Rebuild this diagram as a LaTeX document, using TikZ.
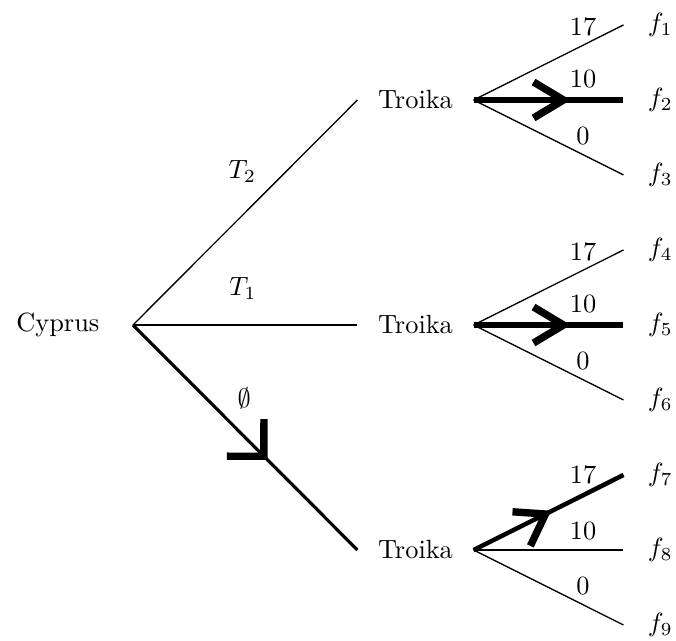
\documentclass[tikz,border=0pt]{standalone}
\usetikzlibrary{decorations.markings}
\begin{document}
\begin{tikzpicture}[line width=0.5pt,
  player/.style={inner xsep=7.6pt},
  outcome/.style={inner xsep=9pt},
  chosen/.style={line width=2.4pt},
  barb/.style n args={3}{postaction={decorate, decoration={markings,
      mark=at position #1 with {\draw[line width=2.8pt, line cap=butt] (#2) -- (0,0) -- (#3);}}}}]
  \useasboundingbox (-1.773,-4.213) rectangle (7.24,4.333);
  \node[player, inner xsep=12.5pt, anchor=east] (cy) at (0,0) {Cyprus};
  \node[player] (t2) at (3.767,3) {Troika};
  \node[player] (t1) at (3.767,0) {Troika};
  \node[player] (t0) at (3.767,-3) {Troika};
  \node[outcome] (f1) at (7.03,4) {$f_1$};
  \node[outcome] (f2) at (7.03,3) {$f_2$};
  \node[outcome] (f3) at (7.03,2) {$f_3$};
  \node[outcome] (f4) at (7.03,1) {$f_4$};
  \node[outcome] (f5) at (7.03,0) {$f_5$};
  \node[outcome] (f6) at (7.03,-1) {$f_6$};
  \node[outcome] (f7) at (7.03,-2) {$f_7$};
  \node[outcome] (f8) at (7.03,-3) {$f_8$};
  \node[outcome] (f9) at (7.03,-4) {$f_9$};
  \draw (cy.east) -- node[pos=0.59, above left] (lt2) {$T_2$} (t2.west);
  \draw (cy.east) -- node[pos=0.49, above=6pt] (lt1) {$T_1$} (t1.west);
  \draw[line width=1.2pt, barb={0.584}{-0.35,0.35}{-0.35,-0.35}] (cy.east)
    -- node[pos=0.42, above right] (lt0) {$\emptyset$} (t0.west);
  \draw (t2.east) -- node[pos=0.73, above] (p1) {17} (f1.west);
  \draw[chosen, barb={0.6}{-0.4,0.24}{-0.4,-0.24}] (t2.east)
    -- node[pos=0.73, above] (p2) {10} (f2.west);
  \draw (t2.east) -- node[pos=0.73, above] (p3) {0} (f3.west);
  \draw (t1.east) -- node[pos=0.73, above] (p4) {17} (f4.west);
  \draw[chosen, barb={0.6}{-0.4,0.24}{-0.4,-0.24}] (t1.east)
    -- node[pos=0.73, above] (p5) {10} (f5.west);
  \draw (t1.east) -- node[pos=0.73, above] (p6) {0} (f6.west);
  \draw[line width=1.7pt, barb={0.48}{-0.38,0.224}{-0.37,-0.29}] (t0.east)
    -- node[pos=0.73, above] (p7) {17} (f7.west);
  \draw (t0.east) -- node[pos=0.73, above] (p8) {10} (f8.west);
  \draw (t0.east) -- node[pos=0.73, above] (p9) {0} (f9.west);
\end{tikzpicture}
\end{document}
